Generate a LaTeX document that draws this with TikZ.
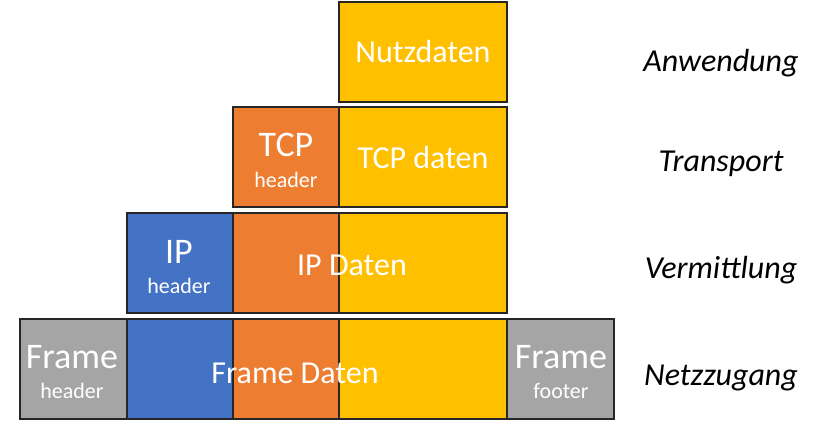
\documentclass[tikz,border=0pt]{standalone}
\usepackage{fontspec}
\setmainfont{Carlito}
\definecolor{cyellow}{HTML}{FFC000}
\definecolor{corange}{HTML}{ED7D31}
\definecolor{cblue}{HTML}{4472C4}
\definecolor{cgray}{HTML}{A5A5A5}
\begin{document}
\begin{tikzpicture}[x=1pt,y=-1pt,
  box/.style={draw=black!85,line width=1.3pt,anchor=north west,minimum height=100pt,inner sep=0pt,outer sep=0pt},
  big/.style={text=white,font=\fontsize{32}{38}\selectfont,anchor=base,inner sep=0pt},
  head/.style={text=white,font=\fontsize{36}{42}\selectfont,anchor=base,inner sep=0pt},
  small/.style={text=white,font=\fontsize{22}{26}\selectfont,anchor=base,inner sep=0pt},
  layer/.style={text=black,font=\fontsize{32}{38}\selectfont\itshape,anchor=base,inner sep=0pt}]
\useasboundingbox (0,0) rectangle (822,422);
% row 1
\node[box,fill=cyellow,minimum width=168pt] (n1) at (339,2) {};
% row 2
\node[box,fill=corange,minimum width=106pt] (t1) at (233,107) {};
\node[box,fill=cyellow,minimum width=168pt] (t2) at (339,107) {};
% row 3
\node[box,fill=cblue,minimum width=106pt] (i1) at (127,213) {};
\node[box,fill=corange,minimum width=106pt] (i2) at (233,213) {};
\node[box,fill=cyellow,minimum width=168pt] (i3) at (339,213) {};
% row 4
\node[box,fill=cgray,minimum width=107pt] (f1) at (20,319) {};
\node[box,fill=cblue,minimum width=106pt] (f2) at (127,319) {};
\node[box,fill=corange,minimum width=106pt] (f3) at (233,319) {};
\node[box,fill=cyellow,minimum width=168pt] (f4) at (339,319) {};
\node[box,fill=cgray,minimum width=107pt] (f5) at (507,319) {};
% texts
\node[big] (ln) at (423,63) {Nutzdaten};
\node[head] (lt) at (286,157) {TCP};
\node[small] (lth) at (286,188) {header};
\node[big] (ltd) at (423,169) {TCP daten};
\node[head] (li) at (179,263) {IP};
\node[small] (lih) at (179,293) {header};
\node[big] (lid) at (352,275) {IP Daten};
\node[head] (lf) at (72,368) {Frame};
\node[small] (lfh) at (72,398) {header};
\node[big] (lfd) at (295,383) {Frame Daten};
\node[head] (lg) at (561,368) {Frame};
\node[small] (lgf) at (561,398) {footer};
% layer labels
\node[layer] (a1) at (721,72) {Anwendung};
\node[layer] (a2) at (721,172) {Transport};
\node[layer] (a3) at (721,278) {Vermittlung};
\node[layer] (a4) at (721,385) {Netzzugang};
\end{tikzpicture}
\end{document}
